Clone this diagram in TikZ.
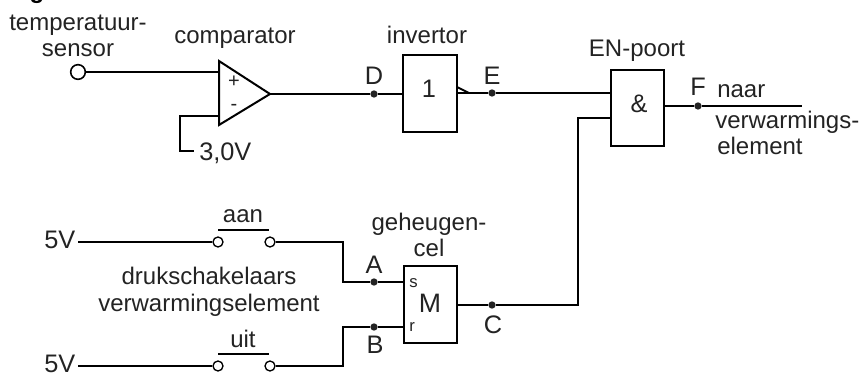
\documentclass[tikz,border=0pt]{standalone}
\usepackage{fontspec}
\setmainfont{Liberation Sans}
\definecolor{ink}{RGB}{35,35,35}
\tikzset{
  x=0.75pt,y=-0.75pt,
  wire/.style={line width=2pt,black,line cap=butt},
  box/.style={draw=black,line width=1.5pt,fill=white,inner sep=0pt,outer sep=0pt,anchor=north west},
  txt/.style={text=ink,inner sep=0pt,anchor=base,font=\fontsize{18}{20}\selectfont},
  captxt/.style={text=ink,inner sep=0pt,anchor=base,font=\fontsize{19}{20}\selectfont},
  small/.style={text=ink,inner sep=0pt,anchor=base west,font=\fontsize{12.5}{14}\selectfont},
  sign/.style={text=ink,inner sep=0pt,anchor=center,font=\fontsize{15}{15}\selectfont},
  junc/.style={circle,fill=ink,inner sep=0pt,minimum size=5.5pt},
  term/.style={circle,draw=black,line width=1pt,fill=white,inner sep=0pt,minimum size=7.5pt},
  bar/.style={line width=1.1pt,black}
}
\begin{document}
\begin{tikzpicture}
\useasboundingbox (0,0) rectangle (861,374);
\begin{scope}
\clip (0,0) rectangle (861,374);
\node[anchor=base west,inner sep=0pt,font=\bfseries\fontsize{18}{20}\selectfont,text=black] (fig) at (8,-1) {Fig};
\end{scope}
% labels
\node[txt,align=center] (tsl) at (78,57) {temperatuur-\\sensor};
\node[txt] (cmpl) at (235,44) {comparator};
\node[txt] (invl) at (427,44) {invertor};
\node[txt] (enl) at (637,57) {EN-poort};
\node[captxt] (dl) at (374,85) {D};
\node[captxt] (el) at (492,85) {E};
\node[captxt] (fl) at (698,96) {F};
\node[txt,anchor=base west] (naar) at (717,98) {naar};
\node[txt,anchor=base west,align=left] (ver) at (715,155) {verwarmings-\\\hspace*{1.5pt}element};
\node[captxt,anchor=base west] (v30) at (199,161) {3,0V};
\node[txt] (aan) at (243,223) {aan};
\node[txt] (uit) at (243,347) {uit};
\node[captxt,anchor=base west] (v1) at (44,249) {5V};
\node[captxt,anchor=base west] (v2) at (44,372) {5V};
\node[txt,align=center] (dr) at (209,311) {drukschakelaars\\verwarmingselement};
\node[txt,align=center] (gh) at (429,257) {geheugen-\\cel};
\node[captxt] (al) at (374,273) {A};
\node[captxt] (bl) at (375,353) {B};
\node[captxt] (cl) at (493,333) {C};
% comparator
\coordinate (ct1) at (219,61);
\coordinate (ct2) at (219,125);
\coordinate (ct3) at (270,94);
\draw[line width=1.5pt,black,line join=miter] (ct1) -- (ct3) -- (ct2) -- cycle;
\node[sign] (plus) at (234,82) {+};
\node[sign] (minus) at (234,107) {-};
% gates
\node[box,minimum width=40.5pt,minimum height=58pt] (inv) at (403,55) {};
\node[captxt] (one) at (429,98) {1};
\node[box,minimum width=40pt,minimum height=57pt] (en) at (611,70) {};
\node[captxt] (amp) at (639,113) {\&};
\node[box,minimum width=40pt,minimum height=57.5pt] (mem) at (404,266) {};
\node[captxt,font=\fontsize{20}{20}\selectfont] (em) at (430,312) {M};
\node[small] (sl) at (409,287) {s};
\node[small] (rl) at (409,331) {r};
% coordinates
\node[term,minimum size=11pt,line width=1.2pt] (ts) at (78,72) {};
\node[junc] (D) at (374,94) {};
\node[junc] (E) at (492,93) {};
\node[junc] (F) at (698,106) {};
\node[junc] (A) at (374,282) {};
\node[junc] (B) at (374,327) {};
\node[junc] (C) at (492,305) {};
\coordinate (fend) at (802,106);
\coordinate (c30a) at (180,116);
\coordinate (c30b) at (180,151);
\coordinate (c30c) at (194,151);
% wires
\draw[wire] (ts) -- (219,72);
\draw[wire,line join=miter] (219,116) -- (c30a) -- (c30b) -- (c30c);
\draw[wire] (ct3) -- (D) -- (403,94);
\draw[wire] (457,93) -- (E) -- (611,93);
\draw[line width=1.5pt,black] (457,87) -- (469,93);
\draw[wire] (664,106) -- (F) -- (fend);
\draw[wire] (611,118) -- (578,118) -- (578,305) -- (C) -- (457,305);
% switches
\node[term] (s1a) at (218,242) {};
\node[term] (s1b) at (270,242) {};
\node[term] (s2a) at (218,366) {};
\node[term] (s2b) at (270,366) {};
\coordinate (w1) at (78,242);
\coordinate (w2) at (78,366);
\draw[wire] (w1) -- (s1a);
\draw[wire] (w2) -- (s2a);
\draw[wire] (s1b) -- (343,242) -- (343,282) -- (A) -- (404,282);
\draw[wire] (s2b) -- (343,366) -- (343,327) -- (B) -- (404,327);
\draw[bar] (218,230) -- (269,230);
\draw[bar] (218,354) -- (269,354);
\end{tikzpicture}
\end{document}
